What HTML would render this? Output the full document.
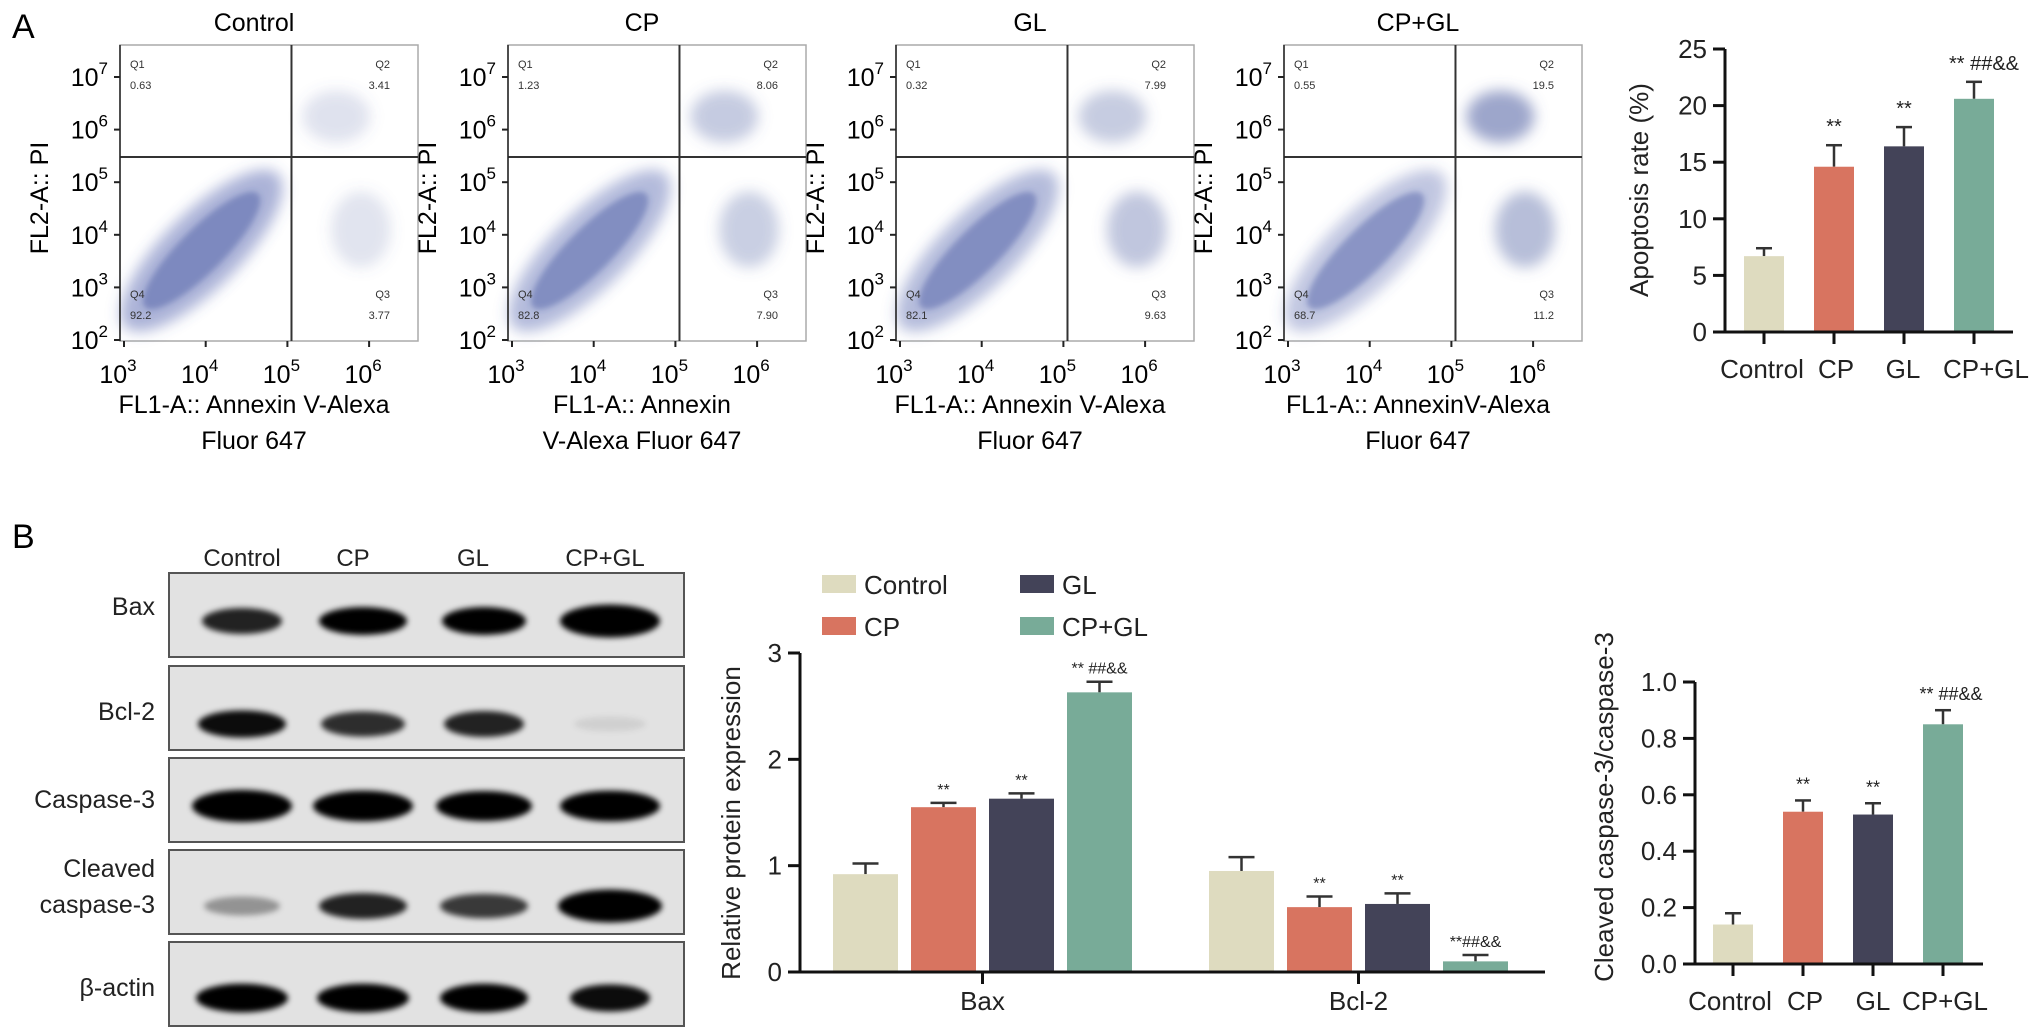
<!DOCTYPE html>
<html><head><meta charset="utf-8">
<style>
html,body{margin:0;padding:0;background:#fff;}
svg{display:block;font-family:"Liberation Sans",Arial,sans-serif;}
</style></head>
<body>
<svg id="fig" width="2032" height="1032" viewBox="0 0 2032 1032" xmlns="http://www.w3.org/2000/svg">
<defs>
<filter id="blur2" x="-20%" y="-50%" width="140%" height="200%"><feGaussianBlur stdDeviation="3"/></filter>
<filter id="blur6" x="-30%" y="-30%" width="160%" height="160%"><feGaussianBlur stdDeviation="7"/></filter>
</defs>
<text x="12" y="38" font-size="34">A</text>
<text x="12" y="548" font-size="34">B</text>
</svg>
<script>
const NS='http://www.w3.org/2000/svg';
const svg=document.getElementById('fig');
function el(tag,attrs,parent,text){const e=document.createElementNS(NS,tag);for(const k in attrs)e.setAttribute(k,attrs[k]);if(text!==undefined)e.textContent=text;(parent||svg).appendChild(e);return e;}

const groups=['Control','CP','GL','CP+GL'];
const colors=['#dedbbf','#d87460','#434358','#78ab98'];

/* ---------- Flow cytometry panels ---------- */
const flowTitles=['Control','CP','GL','CP+GL'];
const q1Vals=['0.63','1.23','0.32','0.55'];
const q2Vals=['3.41','8.06','7.99','19.5'];
const q3Vals=['3.77','7.90','9.63','11.2'];
const q4Vals=['92.2','82.8','82.1','68.7'];
const xTitle1=['FL1-A:: Annexin V-Alexa','FL1-A:: Annexin','FL1-A:: Annexin V-Alexa','FL1-A:: AnnexinV-Alexa'];
const xTitle2=['Fluor 647','V-Alexa Fluor 647','Fluor 647','Fluor 647'];
const decadesY=[7,6,5,4,3,2];
const decadesX=[3,4,5,6];

flowTitles.forEach((t,i)=>{
  const ox=120+i*388, oy=45, w=298, h=296;
  const g=el('g',{},svg);
  
  
  const xs=d=>ox+4+(d-3)*81.7;
  const ys=d=>oy+295-(d-2)*52.6;
  let tt=el('text',{x:ox+w/2-15,y:31,'font-size':25,'text-anchor':'middle'},g,t);
  
  let box=el('rect',{x:ox,y:oy,width:w,height:h,fill:'#fff',stroke:'#aaa','stroke-width':1.5},g);
  
  const q4=parseFloat(q4Vals[i]),q2=parseFloat(q2Vals[i]),q3=parseFloat(q3Vals[i]);
  let pop=el('ellipse',{cx:xs(3.95),cy:ys(3.7),rx:108,ry:38,transform:`rotate(-45 ${xs(3.95)} ${ys(3.7)})`,fill:'#4a5aa8','fill-opacity':0.45*q4/90,filter:'url(#blur6)'},g);
  
  el('ellipse',{cx:xs(3.95),cy:ys(3.7),rx:80,ry:22,transform:`rotate(-45 ${xs(3.95)} ${ys(3.7)})`,fill:'#3a4a9a','fill-opacity':0.4,filter:'url(#blur2)'},g);
  let p2=el('ellipse',{cx:xs(5.6),cy:ys(6.25),rx:34,ry:26,fill:'#5a6aa8','fill-opacity':Math.min(0.6,0.08+q2/30),filter:'url(#blur6)'},g);
  
  let p3=el('ellipse',{cx:xs(5.9),cy:ys(4.1),rx:30,ry:38,fill:'#5a6aa8','fill-opacity':Math.min(0.5,0.06+q3/30),filter:'url(#blur6)'},g);
  
  let gv=el('line',{x1:xs(5.05),y1:oy,x2:xs(5.05),y2:oy+h,stroke:'#333','stroke-width':2},g);
  
  let gh=el('line',{x1:ox,y1:oy+112,x2:ox+w,y2:oy+112,stroke:'#333','stroke-width':2},g);
  
  [['Q1',q1Vals[i],ox+10,'start',68],['Q2',q2Vals[i],ox+w-28,'end',68],['Q4',q4Vals[i],ox+10,'start',298],['Q3',q3Vals[i],ox+w-28,'end',298]].forEach(q=>{
    let a=el('text',{x:q[2],y:q[4],'font-size':11,'text-anchor':q[3],fill:'#333'},g,q[0]);
    
    let b=el('text',{x:q[2],y:q[4]+21,'font-size':11,'text-anchor':q[3],fill:'#333'},g,q[1]);
    
  });
  el('line',{x1:ox,y1:oy,x2:ox,y2:oy+h,stroke:'#222','stroke-width':1.5},g);
  decadesY.forEach(d=>{
    el('line',{x1:ox-6,y1:ys(d),x2:ox,y2:ys(d),stroke:'#222','stroke-width':2},g);
    let tx=el('text',{x:ox-12,y:ys(d)+9,'font-size':25,'text-anchor':'end'},g);
    
    el('tspan',{},tx,'10');el('tspan',{dy:-12,'font-size':17},tx,String(d));
  });
  decadesX.forEach(d=>{
    el('line',{x1:xs(d),y1:oy+h,x2:xs(d),y2:oy+h+6,stroke:'#222','stroke-width':2},g);
    let tx=el('text',{x:xs(d)-6,y:383,'font-size':25,'text-anchor':'middle'},g);
    
    el('tspan',{},tx,'10');el('tspan',{dy:-12,'font-size':17},tx,String(d));
  });
  let yt=el('text',{x:0,y:0,'font-size':25,'text-anchor':'middle',transform:`translate(${ox-72},198) rotate(-90)`},g,'FL2-A:: PI');
  
  let x1=el('text',{x:ox+w/2-15,y:413,'font-size':25,'text-anchor':'middle'},g,xTitle1[i]);
  
  let x2=el('text',{x:ox+w/2-15,y:449,'font-size':25,'text-anchor':'middle'},g,xTitle2[i]);
  
});

/* ---------- generic bar chart ---------- */
function barChart(o){
  const g=el('g',{},svg);
  
  const y=v=>o.y0-(v-o.min)/(o.max-o.min)*(o.y0-o.yTop);
  let ax=el('line',{x1:o.ax,y1:o.yTop,x2:o.ax,y2:o.y0+1.5,stroke:'#111','stroke-width':3},g);
  
  let bx=el('line',{x1:o.ax-12,y1:o.y0,x2:o.xEnd,y2:o.y0,stroke:'#111','stroke-width':3},g);
  
  o.ticks.forEach((t,k)=>{
    el('line',{x1:o.ax-12,y1:y(t),x2:o.ax,y2:y(t),stroke:'#111','stroke-width':3},g);
    let tl=el('text',{x:o.ax-18,y:y(t)+9,'font-size':26,'text-anchor':'end',fill:'#222'},g,o.tickLabels[k]);
    
  });
  let yt=el('text',{x:0,y:0,'font-size':26,'text-anchor':'middle',fill:'#222',transform:`translate(${o.titleX},${o.titleY}) rotate(-90)`},g,o.title);
  
  o.series.forEach((s,j)=>{
    s.vals.forEach((v,k)=>{
      const x=o.barX(j,k), w=o.bw, top=y(v), et=y(s.errs[k]);
      const cx=x+w/2;
      el('line',{x1:cx,y1:top,x2:cx,y2:et,stroke:'#333','stroke-width':2.5},g);
      el('line',{x1:cx-w*0.2,y1:et,x2:cx+w*0.2,y2:et,stroke:'#333','stroke-width':2.5},g);
      let r=el('rect',{x:x,y:top,width:w,height:o.y0-1.5-top,fill:colors[k]},g);
      
      
      if(s.sig[k]){
        let st=el('text',{x:cx+(o.sigShift?o.sigShift(k):0),y:et-o.sigGap,'font-size':o.sigFont,'text-anchor':'middle',fill:'#222'},g,s.sig[k]);
        
      }
    });
  });
  return {g,y};
}

/* Apoptosis rate chart */
const apopVals=[6.7,14.6,16.4,20.6];
const apopErrs=[7.4,16.5,18.1,22.1];
const apopSig=['','**','**','**  ##&&'];
const apopTicks=[0,5,10,15,20,25];
const apopTickLabels=['0','5','10','15','20','25'];
const apop=barChart({name:'apoptosis-rate-chart',ax:1725,y0:332,yTop:49,min:0,max:25,xEnd:2013,
  ticks:apopTicks,tickLabels:apopTickLabels,title:'Apoptosis rate (%)',titleX:1648,titleY:190,
  series:[{label:'apoptosis',vals:apopVals,errs:apopErrs,sig:apopSig}],
  barX:(j,k)=>1744+k*70,bw:40,sigGap:12,sigFont:20,sigShift:k=>k===3?10:0});
groups.forEach((gname,k)=>{
  const cx=1764+k*70;
  el('line',{x1:cx,y1:332,x2:cx,y2:344,stroke:'#111','stroke-width':3},apop.g);
  let t=el('text',{x:[1762,1836,1903,1986][k],y:378,'font-size':26,'text-anchor':'middle',fill:'#222'},apop.g,gname);
  
});

/* Relative protein expression chart */
const proteins=['Bax','Bcl-2'];
const baxVals=[0.92,1.55,1.63,2.63];
const baxErrs=[1.02,1.59,1.68,2.73];
const bclVals=[0.95,0.61,0.64,0.10];
const bclErrs=[1.08,0.71,0.74,0.16];
const baxSig=['','**','**','** ##&&'];
const bclSig=['','**','**','**##&&'];
const relTicks=[0,1,2,3];
const relTickLabels=['0','1','2','3'];
const groupStart=[833,1209];
const rel=barChart({name:'relative-protein-chart',ax:800,y0:972,yTop:653,min:0,max:3,xEnd:1545,
  ticks:relTicks,tickLabels:relTickLabels,title:'Relative protein expression',titleX:740,titleY:823,
  series:[{label:'bax',vals:baxVals,errs:baxErrs,sig:baxSig},{label:'bcl2',vals:bclVals,errs:bclErrs,sig:bclSig}],
  barX:(j,k)=>groupStart[j]+k*78,bw:65,sigGap:8,sigFont:16});
proteins.forEach((p,j)=>{
  const cx=groupStart[j]+(3*78+65)/2;
  el('line',{x1:cx,y1:972,x2:cx,y2:984,stroke:'#111','stroke-width':3},rel.g);
  let t=el('text',{x:cx,y:1010,'font-size':26,'text-anchor':'middle',fill:'#222'},rel.g,p);
  
});
const legPos=[[822,575],[822,617],[1020,575],[1020,617]];
groups.forEach((gname,k)=>{
  const lg=el('g',{},rel.g);
  
  
  el('rect',{x:legPos[k][0],y:legPos[k][1],width:34,height:18,fill:colors[k]},lg);
  el('text',{x:legPos[k][0]+42,y:legPos[k][1]+19,'font-size':26,fill:'#222'},lg,gname);
});

/* Cleaved caspase chart */
const casVals=[0.14,0.54,0.53,0.85];
const casErrs=[0.18,0.58,0.57,0.90];
const casSig=['','**','**','** ##&&'];
const casTicks=[0,0.2,0.4,0.6,0.8,1.0];
const casTickLabels=['0.0','0.2','0.4','0.6','0.8','1.0'];
const cas=barChart({name:'cleaved-caspase-chart',ax:1695,y0:964,yTop:682,min:0,max:1,xEnd:1983,
  ticks:casTicks,tickLabels:casTickLabels,title:'Cleaved caspase-3/caspase-3',titleX:1613,titleY:807,
  series:[{label:'ratio',vals:casVals,errs:casErrs,sig:casSig}],
  barX:(j,k)=>1713+k*70,bw:40,sigGap:10,sigFont:18,sigShift:k=>k===3?8:0});
groups.forEach((gname,k)=>{
  const cx=1733+k*70;
  el('line',{x1:cx,y1:964,x2:cx,y2:976,stroke:'#111','stroke-width':3},cas.g);
  let t=el('text',{x:[1730,1805,1873,1945][k],y:1010,'font-size':26,'text-anchor':'middle',fill:'#222'},cas.g,gname);
  
});

/* ---------- Western blot ---------- */
const blotRows=['Bax','Bcl-2','Caspase-3','Cleaved caspase-3','β-actin'];
const stripTops=[573,666,758,850,942];
const stripH=84;
const laneX=[242,363,484,610];
const bandStrength=[[0.85,1.0,1.0,1.35],[0.95,0.8,0.85,0.08],[1.3,1.2,1.15,1.2],[0.35,0.85,0.75,1.35],[1.05,1.05,1.05,0.95]];
const bandW=[[40,44,42,50],[44,42,40,36],[50,50,48,50],[38,44,44,52],[46,46,44,40]];
const bandCy=[48,58,48,56,56];
const wb=el('g',{},svg);

groups.forEach((gname,k)=>{
  let t=el('text',{x:[242,353,473,605][k],y:566,'font-size':24,'text-anchor':'middle',fill:'#222'},wb,gname);
  
});
blotRows.forEach((r,i)=>{
  const top=stripTops[i];
  let b=el('rect',{x:169,y:top,width:515,height:stripH,fill:'#e2e2e2',stroke:'#555','stroke-width':2},wb);
  
  
  laneX.forEach((lx,k)=>{
    const s=bandStrength[i][k];
    const e=el('ellipse',{cx:lx,cy:top+bandCy[i],rx:bandW[i][k],ry:7+s*7,fill:'#000','fill-opacity':Math.min(1,s),filter:'url(#blur2)'},wb);
    
  });
  if(i===3){
    let t1=el('text',{x:155,y:top+27,'font-size':25,'text-anchor':'end',fill:'#222'},wb,'Cleaved');
    
    let t2=el('text',{x:155,y:top+63,'font-size':25,'text-anchor':'end',fill:'#222'},wb,'caspase-3');
    
  } else {
    let t=el('text',{x:155,y:top+[42,54,50,0,54][i],'font-size':25,'text-anchor':'end',fill:'#222'},wb,r);
    
  }
});
</script>
</body></html>
